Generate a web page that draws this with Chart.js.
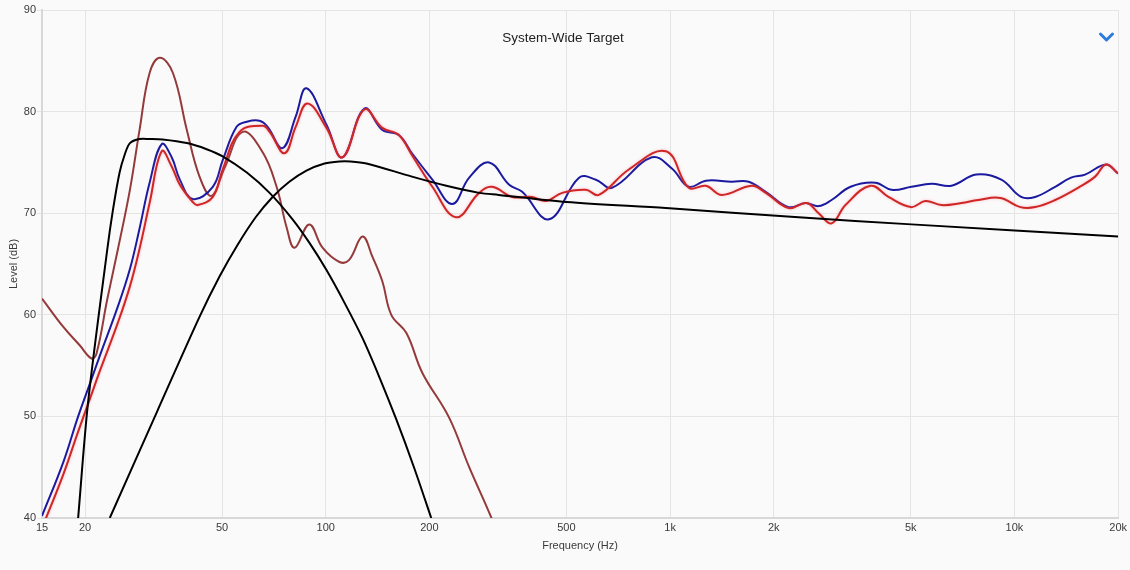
<!DOCTYPE html>
<html>
<head>
<meta charset="utf-8">
<script src="https://cdn.jsdelivr.net/npm/chart.js@4"></script>
<style>
  html, body { margin: 0; padding: 0; background: #fafafa; }
  canvas { display: block; }
</style>
</head>
<body>
<canvas id="chart-target" width="1130" height="570"></canvas>
<script>
const chartTitle = 'System-Wide Target'
const xTicks = [15, 20, 50, 100, 200, 500, 1000, 2000, 5000, 10000, 20000]

// combined measured response (blue)
const blueHz = [15, 17.3, 19.1, 20.7, 22.1, 24.9, 27, 28.8, 30.8, 33.4, 35.7, 37.7, 41.1, 47, 50.2, 55.1, 59, 64.2, 67.8, 74.9, 81.8, 87.9, 100.5, 111.8, 129.5, 146, 163, 178, 204, 233, 261, 298, 341, 372, 445, 544, 609, 678, 885, 1012, 1133, 1270, 1510, 1691, 1895, 2208, 2474, 2700, 2944, 3342, 3947, 4395, 5023, 5739, 6559, 7749, 9156, 10457, 11484, 13127, 14600, 16035, 18450, 20000]
const blueDb = [40.2, 45.5, 50.0, 53.3, 56.0, 60.8, 64.5, 68.5, 73.0, 76.8, 75.5, 73.3, 71.4, 72.6, 75.2, 78.5, 79.0, 79.1, 78.5, 76.4, 79.5, 82.3, 78.7, 75.5, 80.3, 78.2, 77.7, 75.9, 73.3, 70.9, 73.5, 75.0, 72.8, 72.1, 69.4, 73.5, 73.3, 72.5, 75.5, 74.4, 72.6, 73.2, 73.1, 73.1, 72.1, 70.6, 71.0, 70.7, 71.3, 72.6, 73.0, 72.3, 72.6, 72.9, 72.7, 73.8, 73.3, 71.6, 71.6, 72.6, 73.5, 73.8, 74.8, 73.9]

// corrected response (red)
const redHz = [15, 17.3, 19.1, 20.7, 22.1, 24.9, 27, 28.8, 30.8, 33.4, 35.7, 37.7, 41.1, 42.5, 47, 50.2, 56.2, 65.6, 68.7, 75.9, 81.8, 88.5, 100.5, 111.8, 129.5, 146, 163, 178, 204, 239, 279, 304, 348, 397, 436, 486, 570, 621, 759, 972, 1133, 1270, 1413, 1725, 1895, 2208, 2490, 2700, 2944, 3231, 3817, 4305, 5000, 5510, 6135, 7015, 7854, 9098, 10400, 11484, 13127, 15300, 17150, 18450, 20000]
const redDb = [39.0, 44.3, 48.5, 51.8, 54.5, 59.2, 62.8, 66.5, 71.0, 76.1, 74.6, 72.8, 71.1, 70.8, 71.6, 74.3, 78.0, 78.6, 78.0, 75.9, 78.5, 80.8, 78.4, 75.5, 80.2, 78.4, 77.7, 75.7, 72.6, 69.6, 72.0, 72.6, 71.6, 71.6, 71.2, 72.0, 72.3, 71.8, 74.3, 76.1, 72.5, 72.7, 71.8, 72.7, 72.0, 70.5, 71.0, 70.0, 69.0, 70.8, 72.7, 71.6, 70.6, 71.2, 70.8, 71.0, 71.3, 71.5, 70.6, 70.6, 71.3, 72.5, 73.6, 74.8, 73.9]

// subwoofer response (brown)
const subHz = [15, 17.3, 19.3, 20.9, 21.6, 23.2, 24.9, 27, 28.8, 30.8, 33, 36, 39.5, 43, 46.6, 50.9, 57.4, 65.6, 72, 77, 81.2, 89.6, 97.9, 109.6, 117, 127.9, 136.7, 146, 155, 171.5, 190.7, 228, 261, 302, 318]
const subDb = [61.6, 58.8, 57.0, 55.7, 56.2, 61.5, 66.4, 72.3, 78.2, 83.8, 85.3, 83.8, 78.2, 73.6, 71.7, 74.5, 78.0, 76.0, 72.6, 68.6, 66.6, 68.9, 66.6, 65.2, 65.4, 67.7, 65.7, 63.3, 60.0, 58.2, 54.3, 49.9, 45.0, 40.1, 38.0]

// subwoofer target (black)
const subTargetHz = [19.1, 20.4, 23.2, 24.1, 25.2, 26.1, 27, 28.8, 30.8, 33.6, 39.5, 45.1, 50.2, 59, 68.7, 80.1, 89.6, 100.5, 113.3, 127.9, 143, 160.3, 180.8, 202.5]
const subTargetDb = [40.0, 51.3, 66.4, 70.3, 74.0, 75.8, 76.9, 77.3, 77.3, 77.25, 76.9, 76.3, 75.6, 74.0, 72.0, 69.4, 67.1, 64.4, 61.2, 57.7, 53.9, 49.7, 44.9, 40.0]

// mains target (black)
const mainTargetHz = [23.6, 32.5, 43, 49.2, 55.5, 62.6, 70.1, 78.4, 87.9, 99.2, 109.6, 118, 131.3, 178, 224, 279, 318, 500, 972, 2361, 5023, 20000]
const mainTargetDb = [40.0, 50.6, 59.8, 63.8, 66.9, 69.6, 71.6, 73.1, 74.2, 74.9, 75.1, 75.1, 74.9, 73.6, 72.7, 72.0, 71.8, 71.1, 70.5, 69.6, 68.9, 67.7]

const toPoints = (hz, db) => hz.map((x, i) => ({ x, y: db[i] }))

const makeLine = options => {
    const { hz, db, color, glow, tension } = options
    return {
        data: toPoints(hz, db),
        borderColor: color,
        borderWidth: 2,
        pointRadius: 0,
        tension: tension || 0.4,
        glow
    }
}

const glowPlugin = {
    id: 'glow',
    beforeDatasetDraw(chart, args) {
        const ds = chart.data.datasets[args.index]
        if(!ds.glow) return
        chart.ctx.save()
        chart.ctx.shadowColor = ds.glow
        chart.ctx.shadowBlur = 3
    },
    afterDatasetDraw(chart, args) {
        if(chart.data.datasets[args.index].glow) chart.ctx.restore()
    }
}

const overlayPlugin = {
    id: 'overlay',
    afterDraw(chart) {
        const { ctx, width } = chart
        ctx.save()
        ctx.font = '13.5px "Liberation Sans", Arial, sans-serif'
        ctx.fillStyle = '#222'
        ctx.textAlign = 'center'
        ctx.textBaseline = 'middle'
        ctx.fillText(chartTitle, width / 2 - 2, 38)

        // dropdown chevron
        ctx.strokeStyle = '#2b7be0'
        ctx.lineWidth = 3
        ctx.lineCap = 'round'
        ctx.lineJoin = 'round'
        ctx.beginPath()
        ctx.moveTo(1100.5, 34)
        ctx.lineTo(1106.5, 40)
        ctx.lineTo(1112.5, 34)
        ctx.stroke()
        ctx.restore()
    }
}

Chart.defaults.font.family = '"Liberation Sans", Arial, sans-serif'
Chart.defaults.font.size = 11
Chart.defaults.color = '#3a3a3a'

const ctx = document.getElementById('chart-target')

new Chart(ctx, {
    type: 'line',
    data: {
        datasets: [
            makeLine({ hz: subTargetHz, db: subTargetDb, color: '#000000', tension: 0.3 }),
            makeLine({ hz: mainTargetHz, db: mainTargetDb, color: '#000000', tension: 0.3 }),
            makeLine({ hz: redHz, db: redDb, color: '#cf2626', glow: 'rgba(255, 110, 130, 0.45)' }),
            makeLine({ hz: blueHz, db: blueDb, color: '#1a1aa0' }),
            makeLine({ hz: subHz, db: subDb, color: '#953a3a' })
        ]
    },
    options: {
        responsive: false,
        animation: false,
        events: [],
        layout: { padding: { top: 10, right: 10, left: 0, bottom: 0 } },
        plugins: {
            legend: { display: false },
            tooltip: { enabled: false }
        },
        scales: {
            x: {
                type: 'logarithmic',
                min: 15,
                max: 20000,
                afterBuildTicks: scale => { scale.ticks = xTicks.map(value => ({ value })) },
                afterFit: scale => { scale.height = 52 },
                ticks: {
                    padding: 3,
                    maxRotation: 0,
                    autoSkip: false,
                    callback: value => value >= 1000 ? (value / 1000) + 'k' : String(value)
                },
                grid: { color: '#e5e5e5', drawTicks: false },
                border: { color: '#d8d8d8', width: 2 },
                title: { display: true, text: 'Frequency (Hz)', padding: { top: 0, bottom: 17 } }
            },
            y: {
                min: 40,
                max: 90,
                afterFit: scale => { scale.width = 42 },
                ticks: { stepSize: 10, padding: 1 },
                grid: { color: '#e5e5e5', tickLength: 5 },
                border: { color: '#d8d8d8', width: 2 },
                title: { display: true, text: 'Level (dB)', padding: { top: 7, bottom: 0 } }
            }
        }
    },
    plugins: [glowPlugin, overlayPlugin]
})
</script>
</body>
</html>
